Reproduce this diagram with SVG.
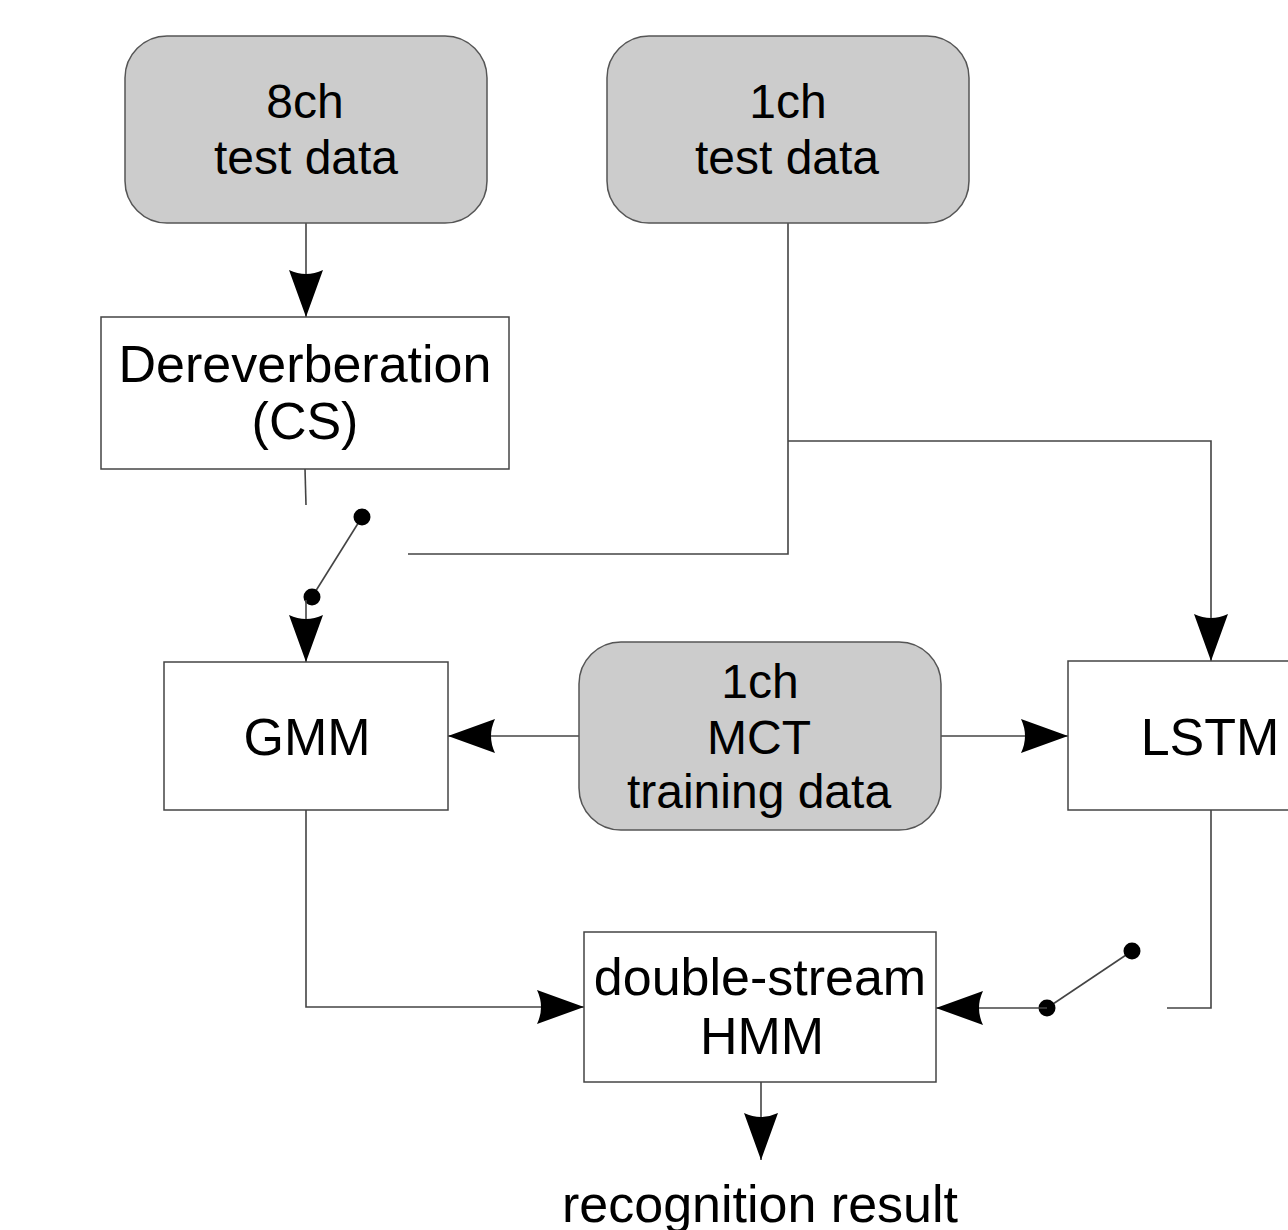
<svg xmlns="http://www.w3.org/2000/svg" width="1288" height="1230" viewBox="0 0 1288 1230">
  <style>
    .data { fill: #cccccc; stroke: #555555; stroke-width: 1.5; }
    .proc { fill: #ffffff; stroke: #444444; stroke-width: 1.5; }
    .lbl { font-family: "Liberation Sans", Arial, sans-serif; font-size: 52px; fill: #000000; text-anchor: middle; }
    .lbl.small { font-size: 48px; }
    .wire { fill: none; stroke: #444444; stroke-width: 1.6; }
    .dot { fill: #000000; }
  </style>
  <defs>
    <marker id="arrow" markerUnits="userSpaceOnUse" markerWidth="50" markerHeight="40" viewBox="-48 -18 50 36" refX="0" refY="0" orient="auto">
      <path d="M0,0 L-47,-17 Q-39,0 -47,17 Z" fill="#000000"/>
    </marker>
  </defs>

  <!-- connectors -->
  <g id="connectors">
    <line class="wire" x1="306" y1="223" x2="306" y2="317" marker-end="url(#arrow)"/>
    <line class="wire" x1="305" y1="469" x2="306" y2="505"/>
    <!-- switch in front of GMM -->
    <line class="wire" x1="362" y1="517" x2="312" y2="597"/>
    <circle class="dot" cx="362" cy="517" r="8.5"/>
    <circle class="dot" cx="312" cy="597" r="8.5"/>
    <line class="wire" x1="306" y1="600" x2="306" y2="662" marker-end="url(#arrow)"/>
    <!-- 1ch test data feeds -->
    <polyline class="wire" points="408,554 788,554 788,223"/>
    <polyline class="wire" points="788,441 1211,441 1211,661" marker-end="url(#arrow)"/>
    <!-- MCT training data to both models -->
    <line class="wire" x1="579" y1="736" x2="448" y2="736" marker-end="url(#arrow)"/>
    <line class="wire" x1="941" y1="736" x2="1068" y2="736" marker-end="url(#arrow)"/>
    <!-- model outputs into HMM -->
    <polyline class="wire" points="306,810 306,1007 584,1007" marker-end="url(#arrow)"/>
    <polyline class="wire" points="1211,810 1211,1008 1167,1008"/>
    <line class="wire" x1="1132" y1="951" x2="1047" y2="1008"/>
    <circle class="dot" cx="1132" cy="951" r="8.5"/>
    <circle class="dot" cx="1047" cy="1008" r="8.5"/>
    <line class="wire" x1="1047" y1="1008" x2="936" y2="1008" marker-end="url(#arrow)"/>
    <line class="wire" x1="761" y1="1082" x2="761" y2="1160" marker-end="url(#arrow)"/>
  </g>

  <g id="test8ch">
    <rect class="data" x="125" y="36" width="362" height="187" rx="42" ry="42"/>
    <text class="lbl small" x="305" y="118">8ch</text>
    <text class="lbl small" x="306" y="174">test data</text>
  </g>

  <g id="test1ch">
    <rect class="data" x="607" y="36" width="362" height="187" rx="42" ry="42"/>
    <text class="lbl small" x="788" y="118">1ch</text>
    <text class="lbl small" x="787" y="174">test data</text>
  </g>

  <g id="dereverb">
    <rect class="proc" x="101" y="317" width="408" height="152"/>
    <text class="lbl" x="305" y="382">Dereverberation</text>
    <text class="lbl" x="305" y="439">(CS)</text>
  </g>

  <g id="gmm">
    <rect class="proc" x="164" y="662" width="284" height="148"/>
    <text class="lbl" x="307" y="755">GMM</text>
  </g>

  <g id="mct">
    <rect class="data" x="579" y="642" width="362" height="188" rx="42" ry="42"/>
    <text class="lbl small" x="760" y="698">1ch</text>
    <text class="lbl small" x="759" y="754">MCT</text>
    <text class="lbl small" x="759" y="808">training data</text>
  </g>

  <g id="lstm">
    <rect class="proc" x="1068" y="661" width="240" height="149"/>
    <text class="lbl" x="1210" y="755">LSTM</text>
  </g>

  <g id="hmm">
    <rect class="proc" x="584" y="932" width="352" height="150"/>
    <text class="lbl" x="760" y="995">double-stream</text>
    <text class="lbl" x="762" y="1054">HMM</text>
  </g>

  <g id="result">
    <text class="lbl" x="760" y="1222">recognition result</text>
  </g>
</svg>
